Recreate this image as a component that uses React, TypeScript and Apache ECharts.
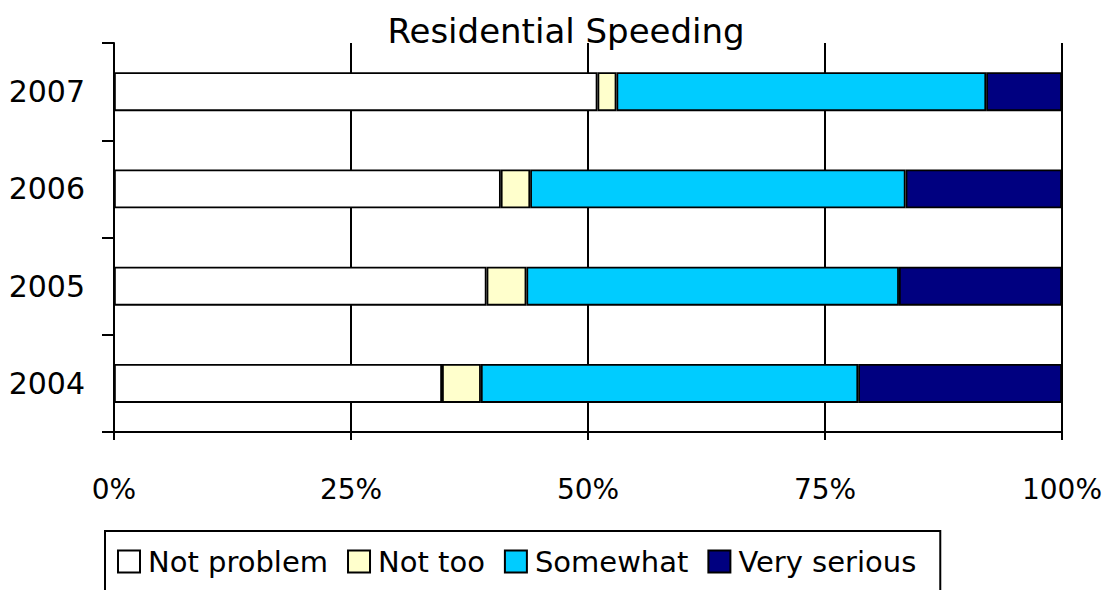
import React, { useEffect, useRef } from "react";
import * as echarts from "echarts";

const years = ["2004", "2005", "2006", "2007"];
const notProblem = [34.6, 39.3, 40.8, 51.0];
const notToo = [4.1, 4.2, 3.1, 2.0];
const somewhat = [39.8, 39.3, 39.6, 39.0];
const verySerious = [21.5, 17.2, 16.5, 8.0];
const xTicks = [0, 25, 50, 75, 100];

const FONT = "'Comic Sans MS', 'DejaVu Sans', sans-serif";

export default function App() {
  const ref = useRef<HTMLDivElement>(null);
  useEffect(() => {
    const chart = echarts.init(ref.current!, null, { renderer: "svg" });
    const mk = (name: string, data: number[], color: string) => ({
      name,
      type: "bar",
      stack: "total",
      data,
      barWidth: 39,
      itemStyle: { color, borderColor: "#000", borderWidth: 1.8 },
    });
    chart.setOption({
      animation: false,
      backgroundColor: "#fff",
      textStyle: { fontFamily: FONT, color: "#000" },
      title: {
        text: "Residential Speeding",
        left: 561,
        textAlign: "center",
        top: 9,
        textStyle: { fontFamily: FONT, fontSize: 34, fontWeight: "normal", color: "#000" },
      },
      grid: { left: 114, right: 44, top: 43, bottom: 158, containLabel: false },
      xAxis: {
        type: "value",
        min: xTicks[0],
        max: xTicks[xTicks.length - 1],
        interval: 25,
        axisLine: { show: true, lineStyle: { color: "#000", width: 2 } },
        axisTick: { show: true, length: 8, lineStyle: { color: "#000", width: 2 } },
        splitLine: { show: true, lineStyle: { color: "#000", width: 2 } },
        axisLabel: { formatter: "{value}%", fontSize: 28, fontFamily: FONT, color: "#000", margin: 43 },
      },
      yAxis: {
        type: "category",
        data: years,
        axisLine: { show: true, lineStyle: { color: "#000", width: 2 } },
        axisTick: { show: true, length: 12, lineStyle: { color: "#000", width: 2 } },
        axisLabel: { fontSize: 30, fontFamily: FONT, color: "#000", margin: 29 },
        splitLine: { show: false },
      },
      legend: {
        left: 105,
        top: 531,
        padding: [16, 24, 30, 12],
        borderColor: "#000",
        borderWidth: 2,
        itemGap: 19,
        itemWidth: 22,
        itemHeight: 22,
        icon: "rect",
        itemStyle: { borderColor: "#000", borderWidth: 2 },
        textStyle: { fontFamily: FONT, fontSize: 29, color: "#000", padding: [0, 0, 0, 3] },
        data: ["Not problem", "Not too", "Somewhat", "Very serious"],
      },
      series: [
        mk("Not problem", notProblem, "#ffffff"),
        mk("Not too", notToo, "#ffffcc"),
        mk("Somewhat", somewhat, "#00ccff"),
        mk("Very serious", verySerious, "#000080"),
      ],
    });
    return () => chart.dispose();
  }, []);
  return <div ref={ref} style={{ width: 1106, height: 590, position: "absolute", left: 0, top: 0 }} />;
}
